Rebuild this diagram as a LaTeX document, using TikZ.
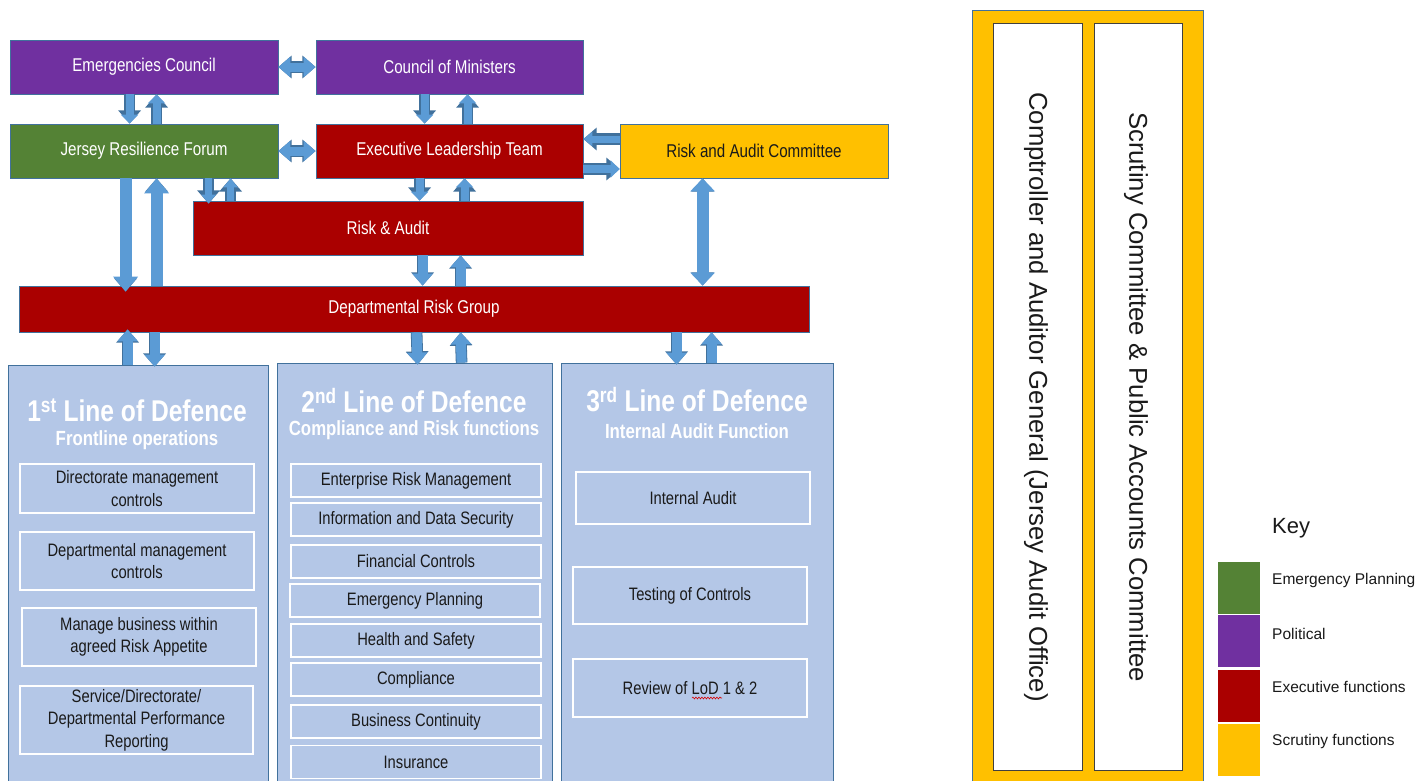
\documentclass[tikz,border=0pt]{standalone}
\usepackage{fontspec}
\setmainfont{Liberation Sans}[FakeStretch=0.82]
\newfontfamily\widefont{Liberation Sans}
\usetikzlibrary{arrows.meta,decorations.pathmorphing}
\definecolor{purp}{HTML}{7030A0}
\definecolor{grn}{HTML}{548235}
\definecolor{redx}{HTML}{AA0000}
\definecolor{yel}{HTML}{FFC000}
\definecolor{lblue}{HTML}{B4C7E7}
\definecolor{ablue}{HTML}{5B9BD5}
\definecolor{aedge}{HTML}{41719C}
\definecolor{txt}{HTML}{1A1A1A}
\tikzset{
  box/.style={draw=aedge, line width=0.8pt, inner sep=0pt, text=white,
    font=\fontsize{18.5}{22}\selectfont, align=center},
  lodbox/.style={draw=aedge, line width=0.8pt, fill=lblue, inner sep=0pt},
  subbox/.style={draw=white, line width=1.2pt, inner sep=0pt, text=txt,
    font=\fontsize{18}{22.5}\selectfont, align=center},
  lodtitle/.style={text=white, font=\bfseries\fontsize{30}{32}\selectfont, inner sep=0pt},
  lodsub/.style={text=white, font=\bfseries\fontsize{20.5}{22}\selectfont, inner sep=0pt},
  blk/.style={line width=10pt, draw=ablue, -{Triangle[width=20pt,length=12pt]},
    preaction={draw=aedge, line width=11.6pt, -{Triangle[width=22pt,length=13.2pt]}}},
  blkd/.style={line width=10pt, draw=ablue, {Triangle[width=20pt,length=12pt]}-{Triangle[width=20pt,length=12pt]},
    preaction={draw=aedge, line width=11.6pt, {Triangle[width=22pt,length=13.2pt]}-{Triangle[width=22pt,length=13.2pt]}}},
  big/.style={line width=12pt, -{Triangle[width=24pt,length=15pt]},
    preaction={line width=13.6pt, -{Triangle[width=26pt,length=16.2pt]}}},
  bigd/.style={line width=12pt, {Triangle[width=24pt,length=13pt]}-{Triangle[width=24pt,length=13pt]},
    preaction={line width=13.6pt, {Triangle[width=26pt,length=14.2pt]}-{Triangle[width=26pt,length=14.2pt]}}},
  small/.style={line width=7pt, -{Triangle[width=14pt,length=9pt]},
    preaction={line width=8.4pt, -{Triangle[width=16pt,length=10.2pt]}}},
  thin/.style={line width=8pt, -{Triangle[width=17pt,length=9pt]},
    preaction={line width=9.4pt, -{Triangle[width=19pt,length=10.2pt]}}},
  keysq/.style={draw=white, line width=0.8pt, minimum width=43pt, minimum height=53pt, inner sep=0pt},
  keytxt/.style={anchor=west, text=txt, font=\widefont\fontsize{15.5}{18}\selectfont, inner sep=0pt},
  paneltxt/.style={rotate=-90, text=txt, font=\widefont\fontsize{25.7}{28}\selectfont, inner sep=0pt},
}
\begin{document}
\begin{tikzpicture}[x=1pt,y=-1pt]
\useasboundingbox[fill=white] (0,0) rectangle (1426,780);

% top boxes
\node[box, fill=purp, minimum width=268pt, minimum height=54pt] (ec) at (144,67) {Emergencies Council};
\node[box, fill=purp, minimum width=267pt, minimum height=54pt] (com) at (449.5,67) {Council of Ministers};
\node[box, fill=grn, minimum width=268pt, minimum height=54pt] (jrf) at (144,151) {Jersey Resilience Forum};
\node[box, fill=redx, minimum width=267pt, minimum height=54pt] (elt) at (449.5,151) {Executive Leadership Team};
\node[box, fill=yel, text=txt, minimum width=268pt, minimum height=54pt] (rac) at (754,151) {Risk and Audit Committee};
\node[box, fill=redx, minimum width=390pt, minimum height=54pt] (ra) at (388,228) {Risk \& Audit};
\node[box, fill=redx, minimum width=790pt, minimum height=46pt] (drg) at (414,309) {Departmental Risk Group};

% lines of defence
\node[lodbox, minimum width=260pt, minimum height=435pt] (lod1) at (138,582.5) {};
\node[lodbox, minimum width=275pt, minimum height=437pt] (lod2) at (414.5,581.5) {};
\node[lodbox, minimum width=272pt, minimum height=437pt] (lod3) at (697,581.5) {};

\node[lodtitle] (t1) at (137,410) {1\textsuperscript{st} Line of Defence};
\node[lodsub] (s1) at (137,440) {Frontline operations};
\node[lodtitle] (t2) at (414,401) {2\textsuperscript{nd} Line of Defence};
\node[lodsub] (s2) at (414,430) {Compliance and Risk functions};
\node[lodtitle] (t3) at (697,400) {3\textsuperscript{rd} Line of Defence};
\node[lodsub] (s3) at (697,431) {Internal Audit Function};

\node[subbox, minimum width=234pt, minimum height=49pt] (a1) at (137,488.5) {Directorate management\\controls};
\node[subbox, minimum width=234pt, minimum height=58pt] (a2) at (137,561) {Departmental management\\controls};
\node[subbox, minimum width=234pt, minimum height=58pt] (a3) at (139,637) {Manage business within\\agreed Risk Appetite};
\node[subbox, minimum width=233pt, minimum height=68pt] (a4) at (136.5,720) {Service/Directorate/\\Departmental Performance\\Reporting};

\node[subbox, minimum width=250pt, minimum height=33pt] (b1) at (416,480.5) {Enterprise Risk Management};
\node[subbox, minimum width=250pt, minimum height=33pt] (b2) at (416,519.5) {Information and Data Security};
\node[subbox, minimum width=250pt, minimum height=33pt] (b3) at (416,561.5) {Financial Controls};
\node[subbox, minimum width=250pt, minimum height=33pt] (b4) at (415,600.5) {Emergency Planning};
\node[subbox, minimum width=250pt, minimum height=33pt] (b5) at (416,640.5) {Health and Safety};
\node[subbox, minimum width=250pt, minimum height=33pt] (b6) at (416,679.5) {Compliance};
\node[subbox, minimum width=250pt, minimum height=33pt] (b7) at (416,721.5) {Business Continuity};
\node[subbox, minimum width=250pt, minimum height=33pt] (b8) at (416,762) {Insurance};

\node[subbox, minimum width=234pt, minimum height=52pt] (c1) at (693,498) {Internal Audit};
\node[subbox, minimum width=234pt, minimum height=57pt] (c2) at (690,595.5) {Testing of Controls};
\node[subbox, minimum width=234pt, minimum height=58pt] (c3) at (690,688) {Review of LoD 1 \& 2};
\coordinate (wl) at (692,698);
\coordinate (wr) at (722,698);
\draw[red!85!black, line width=0.6pt, decorate, decoration={snake, amplitude=0.9pt, segment length=3pt}] (wl) -- (wr);

% right panel
\node[draw=aedge, line width=0.8pt, fill=yel, minimum width=231pt, minimum height=790pt, inner sep=0pt] (panel) at (1087.5,405) {};
\node[draw=black!75, line width=1pt, fill=white, minimum width=89pt, minimum height=747pt, inner sep=0pt] (p1) at (1037.5,396.5) {};
\node[draw=black!75, line width=1pt, fill=white, minimum width=88pt, minimum height=747pt, inner sep=0pt] (p2) at (1138,396.5) {};
\node[paneltxt] (p1t) at (1036,397) {Comptroller and Auditor General (Jersey Audit Office)};
\node[paneltxt] (p2t) at (1136,397) {Scrutiny Committee \& Public Accounts Committee};

% key
\node[anchor=west, text=txt, font=\widefont\fontsize{22}{24}\selectfont, inner sep=0pt] (key) at (1272,528) {Key};
\node[keysq, fill=grn] (k1) at (1238.5,587.5) {};
\node[keysq, fill=purp] (k2) at (1238.5,641) {};
\node[keysq, fill=redx] (k3) at (1238.5,696) {};
\node[keysq, fill=yel] (k4) at (1238.5,749.5) {};
\node[keytxt] (k1t) at (1272,580) {Emergency Planning};
\node[keytxt] (k2t) at (1272,634) {Political};
\node[keytxt] (k3t) at (1272,687) {Executive functions};
\node[keytxt] (k4t) at (1272,741) {Scrutiny functions};

% arrows
\draw[blkd, line width=9pt] (ec.east) -- (com.west);
\draw[blkd, line width=9pt] (jrf.east) -- (elt.west);
\draw[blk, thin] ([xshift=120pt]ec.south west) -- ([xshift=120pt]jrf.north west);
\draw[blk, thin] ([xshift=147pt]jrf.north west) -- ([xshift=147pt]ec.south west);
\draw[blk, thin] ([xshift=109pt]com.south west) -- ([xshift=109pt]elt.north west);
\draw[blk, thin] ([xshift=152pt]elt.north west) -- ([xshift=152pt]com.south west);
\draw[blk, small] ([yshift=12pt]rac.west) -- ([yshift=12pt]elt.east);
\draw[blk, thin] ([yshift=-18pt]elt.east) -- ([yshift=-18pt]rac.west);
\draw[blk, big] ([xshift=116pt]jrf.south west) -- ([xshift=107pt,yshift=-6pt]drg.north west);
\draw[blk, big] ([xshift=138pt]drg.north west) -- ([xshift=147pt]jrf.south west);
\draw[blk, small] ([xshift=199pt]jrf.south west) -- ([xshift=16pt,yshift=-3pt]ra.north west);
\draw[blk, small] ([xshift=38pt]ra.north west) -- ([xshift=221pt]jrf.south west);
\draw[blk, thin] ([xshift=104pt]elt.south west) -- ([xshift=227pt]ra.north west);
\draw[blk, thin] ([xshift=272pt]ra.north west) -- ([xshift=149pt]elt.south west);
\draw[blk] ([xshift=230pt]ra.south west) -- ([xshift=404pt]drg.north west);
\draw[blk] ([xshift=442pt]drg.north west) -- ([xshift=268pt]ra.south west);
\draw[blkd, bigd] ([xshift=83pt]rac.south west) -- ([xshift=684pt]drg.north west);
\draw[blk] ([xshift=120pt]lod1.north west) -- ([xshift=109pt,yshift=3pt]drg.south west);
\draw[blk] ([xshift=136pt]drg.south west) -- ([xshift=147pt,yshift=-2pt]lod1.north west);
\draw[blk] ([xshift=398pt]drg.south west) -- ([xshift=141pt,yshift=-2pt]lod2.north west);
\draw[blk] ([xshift=185pt]lod2.north west) -- ([xshift=442pt]drg.south west);
\draw[blk] ([xshift=658pt]drg.south west) -- ([xshift=116pt,yshift=-2pt]lod3.north west);
\draw[blk] ([xshift=151pt]lod3.north west) -- ([xshift=693pt]drg.south west);
\end{tikzpicture}
\end{document}
